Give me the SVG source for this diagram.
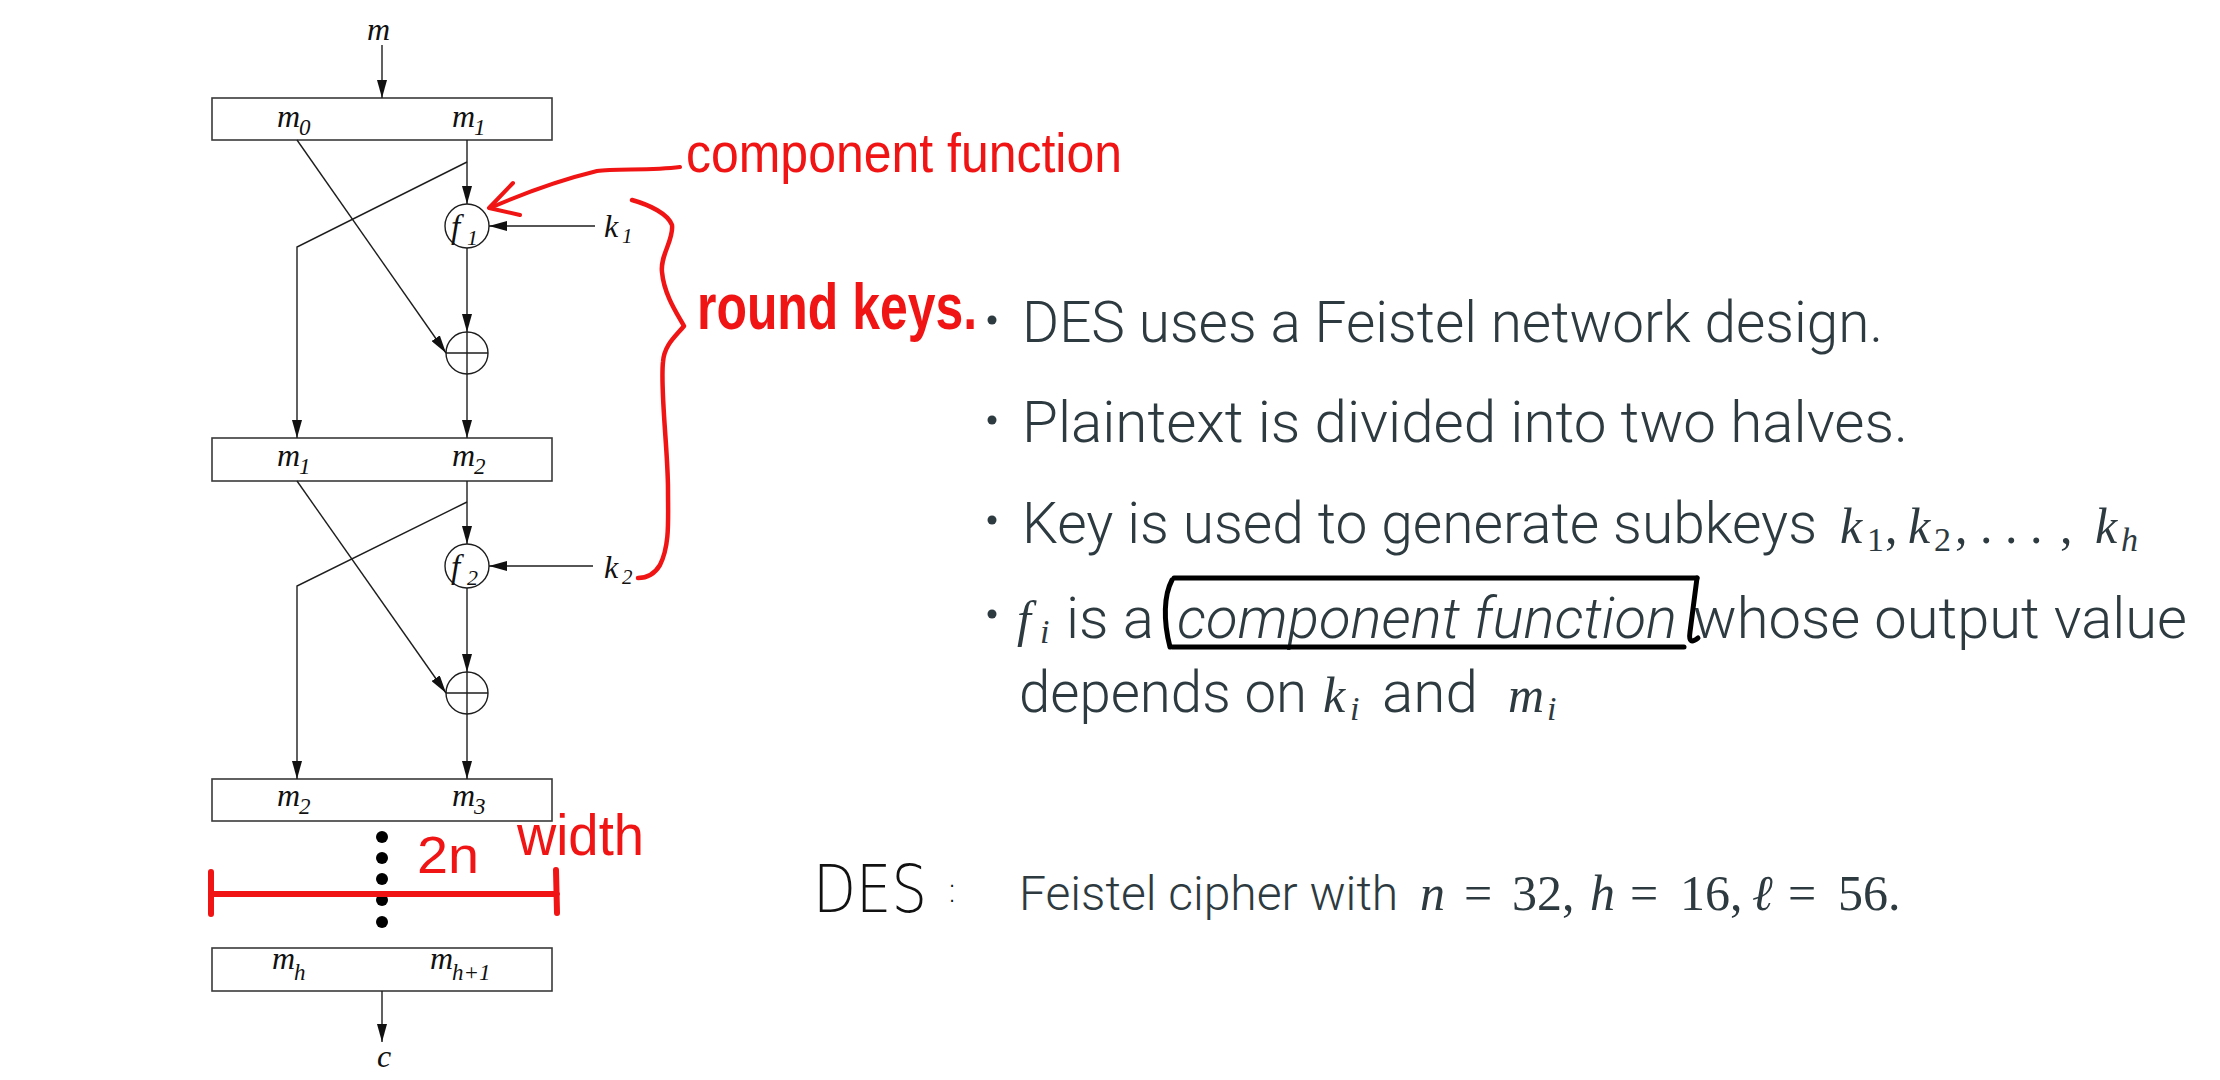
<svg xmlns="http://www.w3.org/2000/svg" width="2220" height="1080" viewBox="0 0 2220 1080">
  <style>
    .box { fill: #ffffff; stroke: #3a3a3a; stroke-width: 1.6; }
    .wire { fill: none; stroke: #1e1e1e; stroke-width: 1.4; }
    .node { fill: #ffffff; stroke: #1e1e1e; stroke-width: 1.4; }
    .lbl { font-family: "Liberation Serif", "DejaVu Serif", serif; font-style: italic; fill: #111111; }
    .lb { font-size: 32px; }
    .sub { font-size: 23px; }
    .body { font-family: Roboto, "Open Sans", "Liberation Sans", sans-serif; font-weight: 300; fill: #2d3a40; font-size: 58px; }
    .ital { font-style: italic; }
    .math { font-family: "Liberation Serif", "DejaVu Serif", serif; fill: #2d3a40; }
    .mi { font-style: italic; font-size: 50px; }
    .mr { font-size: 50px; }
    .ms { font-size: 34px; }
    .hand { font-family: "Liberation Sans", "DejaVu Sans", sans-serif; fill: #f01414; }
    .red { fill: none; stroke: #f01414; stroke-linecap: round; stroke-linejoin: round; }
    .ink { fill: none; stroke: #000000; stroke-width: 5; stroke-linecap: round; stroke-linejoin: round; }
    .dot { fill: #2d3a40; }
  </style>
  <defs>
    <marker id="head" markerUnits="userSpaceOnUse" markerWidth="18" markerHeight="10" refX="18" refY="5" orient="auto">
      <path d="M0,0 L18,5 L0,10 z" fill="#111111"/>
    </marker>
  </defs>

  <rect width="2220" height="1080" fill="#ffffff"/>

  <!-- Feistel network: registers -->
  <g id="reg0">
    <rect class="box" x="212" y="98" width="340" height="42"/>
    <text class="lbl lb" x="277" y="127">m<tspan class="sub" x="299" y="135">0</tspan></text>
    <text class="lbl lb" x="452" y="127">m<tspan class="sub" x="474" y="135">1</tspan></text>
  </g>
  <g id="reg1">
    <rect class="box" x="212" y="438" width="340" height="43"/>
    <text class="lbl lb" x="277" y="466">m<tspan class="sub" x="299" y="474">1</tspan></text>
    <text class="lbl lb" x="452" y="466">m<tspan class="sub" x="474" y="474">2</tspan></text>
  </g>
  <g id="reg2">
    <rect class="box" x="212" y="779" width="340" height="42"/>
    <text class="lbl lb" x="277" y="806">m<tspan class="sub" x="299" y="814">2</tspan></text>
    <text class="lbl lb" x="452" y="806">m<tspan class="sub" x="474" y="814">3</tspan></text>
  </g>
  <g id="regh">
    <rect class="box" x="212" y="948" width="340" height="43"/>
    <text class="lbl lb" x="272" y="969">m<tspan class="sub" x="294" y="980">h</tspan></text>
    <text class="lbl lb" x="430" y="969">m<tspan class="sub" x="452" y="980">h+1</tspan></text>
  </g>

  <!-- input / output labels -->
  <g id="input"><text class="lbl lb" x="367" y="40">m</text></g>
  <g id="output"><text class="lbl lb" x="377" y="1067">c</text></g>

  <!-- round functions -->
  <g id="f1">
    <circle class="node" cx="467" cy="226" r="22"/>
    <text class="lbl" font-size="33" x="451" y="238">f<tspan font-size="22" x="467" y="245">1</tspan></text>
  </g>
  <g id="f2">
    <circle class="node" cx="467" cy="566" r="22"/>
    <text class="lbl" font-size="33" x="451" y="578">f<tspan font-size="22" x="467" y="585">2</tspan></text>
  </g>

  <!-- XOR nodes -->
  <g id="xor1">
    <circle class="node" cx="467" cy="353" r="21"/>
    <path class="wire" d="M446 353 H488 M467 332 V374"/>
  </g>
  <g id="xor2">
    <circle class="node" cx="467" cy="693" r="21"/>
    <path class="wire" d="M446 693 H488 M467 672 V714"/>
  </g>

  <!-- round keys -->
  <g id="k1"><text class="lbl" font-size="32" x="604" y="237">k<tspan font-size="21" x="622" y="243">1</tspan></text></g>
  <g id="k2"><text class="lbl" font-size="32" x="604" y="578">k<tspan font-size="21" x="622" y="584">2</tspan></text></g>

  <!-- ellipsis between rounds -->
  <g id="ellipsis" fill="#000000">
    <circle cx="382" cy="837" r="6"/>
    <circle cx="382" cy="858" r="6"/>
    <circle cx="382" cy="879" r="6"/>
    <circle cx="382" cy="900" r="6"/>
    <circle cx="382" cy="922" r="6"/>
  </g>

  <!-- connectors -->
  <g id="connectors">
    <line class="wire" x1="382" y1="45" x2="382" y2="98" marker-end="url(#head)"/>
    <line class="wire" x1="467" y1="140" x2="467" y2="204" marker-end="url(#head)"/>
    <line class="wire" x1="595" y1="226" x2="489" y2="226" marker-end="url(#head)"/>
    <line class="wire" x1="467" y1="248" x2="467" y2="332" marker-end="url(#head)"/>
    <line class="wire" x1="297" y1="140" x2="446" y2="353" marker-end="url(#head)"/>
    <polyline class="wire" points="467,162 297,247 297,438" marker-end="url(#head)"/>
    <line class="wire" x1="467" y1="374" x2="467" y2="438" marker-end="url(#head)"/>

    <line class="wire" x1="467" y1="481" x2="467" y2="544" marker-end="url(#head)"/>
    <line class="wire" x1="593" y1="566" x2="489" y2="566" marker-end="url(#head)"/>
    <line class="wire" x1="467" y1="588" x2="467" y2="672" marker-end="url(#head)"/>
    <line class="wire" x1="297" y1="481" x2="446" y2="693" marker-end="url(#head)"/>
    <polyline class="wire" points="467,502 297,586 297,779" marker-end="url(#head)"/>
    <line class="wire" x1="467" y1="714" x2="467" y2="779" marker-end="url(#head)"/>

    <line class="wire" x1="382" y1="991" x2="382" y2="1042" marker-end="url(#head)"/>
  </g>

  <!-- handwritten notes -->
  <g id="note-component">
    <path class="red" stroke-width="4" d="M680 167 C 650 171, 615 168, 597 171 C 560 180, 522 194, 490 208"/>
    <path class="red" stroke-width="4" d="M513 183 L489 208 L520 215"/>
    <text class="hand" font-size="56" x="686" y="172" textLength="436" lengthAdjust="spacingAndGlyphs">component function</text>
  </g>
  <g id="note-roundkeys">
    <path class="red" stroke-width="4.5" d="M632 200 C 650 205, 668 214, 672 225 C 674 240, 660 255, 662 272 C 664 295, 678 315, 684 326 C 676 336, 664 345, 663 362 C 660 390, 668 450, 668 490 C 668 520, 670 545, 660 565 C 654 575, 645 578, 638 578"/>
    <text class="hand" font-weight="700" font-size="64" x="697" y="329" textLength="280" lengthAdjust="spacingAndGlyphs">round keys.</text>
  </g>
  <g id="note-width">
    <path class="red" stroke-width="6" d="M212 894 L557 894 M211 872 L211 914 M556 870 L557 913"/>
    <text class="hand" font-size="52" x="417" y="873" textLength="62" lengthAdjust="spacingAndGlyphs">2n</text>
    <text class="hand" font-size="58" x="517" y="855" textLength="127" lengthAdjust="spacingAndGlyphs">width</text>
  </g>

  <!-- bullet list -->
  <g id="bullets">
    <circle class="dot" cx="992" cy="320" r="4.5"/>
    <circle class="dot" cx="992" cy="420" r="4.5"/>
    <circle class="dot" cx="992" cy="520" r="4.5"/>
    <circle class="dot" cx="992" cy="614" r="4.5"/>

    <text class="body" x="1022" y="342" textLength="861" lengthAdjust="spacingAndGlyphs">DES uses a Feistel network design.</text>
    <text class="body" x="1022" y="442" textLength="886" lengthAdjust="spacingAndGlyphs">Plaintext is divided into two halves.</text>

    <text class="body" x="1022" y="543" textLength="795" lengthAdjust="spacingAndGlyphs">Key is used to generate subkeys</text>
    <text class="math"><tspan class="mi" x="1840" y="543">k</tspan><tspan class="ms" x="1867" y="551">1</tspan><tspan class="mr" x="1885" y="543">,</tspan><tspan class="mi" x="1908" y="543">k</tspan><tspan class="ms" x="1934" y="551">2</tspan><tspan class="mr" x="1955" y="543">,</tspan><tspan class="mr" x="1980" y="543">.</tspan><tspan class="mr" x="2005" y="543">.</tspan><tspan class="mr" x="2030" y="543">.</tspan><tspan class="mr" x="2060" y="543">,</tspan><tspan class="mi" x="2095" y="543">k</tspan><tspan class="mi ms" x="2121" y="551">h</tspan></text>

    <text class="math"><tspan class="mi" x="1017" y="636">f</tspan><tspan class="mi ms" x="1040" y="643">i</tspan></text>
    <text class="body" x="1066" y="638" textLength="88" lengthAdjust="spacingAndGlyphs">is a</text>
    <text class="body ital" x="1177" y="638" textLength="500" lengthAdjust="spacingAndGlyphs">component function</text>
    <text class="body" x="1693" y="638" textLength="494" lengthAdjust="spacingAndGlyphs">whose output value</text>

    <text class="body" x="1019" y="712" textLength="288" lengthAdjust="spacingAndGlyphs">depends on</text>
    <text class="math"><tspan class="mi" x="1323" y="712">k</tspan><tspan class="mi ms" x="1350" y="720">i</tspan></text>
    <text class="body" x="1382" y="712" textLength="96" lengthAdjust="spacingAndGlyphs">and</text>
    <text class="math"><tspan class="mi" x="1508" y="712">m</tspan><tspan class="mi ms" x="1547" y="720">i</tspan></text>
  </g>

  <!-- hand-drawn frame around the term -->
  <g id="frame">
    <path class="ink" d="M1174 578 H1697"/>
    <path class="ink" d="M1172 647 H1684"/>
    <path class="ink" d="M1172 580 C 1164 595, 1163 620, 1170 647"/>
    <path class="ink" d="M1697 578 L1690 632 Q1688 646 1698 638"/>
  </g>

  <!-- DES parameters -->
  <g id="des-params">
    <text font-family="'DejaVu Sans', 'Liberation Sans', sans-serif" font-weight="200" font-size="66" fill="#111111" x="813" y="912" textLength="114" lengthAdjust="spacingAndGlyphs">DES</text>
    <text font-family="'DejaVu Sans', 'Liberation Sans', sans-serif" font-weight="200" font-size="36" fill="#111111" x="946" y="902">:</text>
    <text class="body" style="font-size:48px" x="1019" y="910">Feistel cipher with</text>
    <text class="math" style="font-size:50px"><tspan class="mi" x="1420" y="910">n</tspan><tspan class="mr" x="1464" y="910">=</tspan><tspan class="mr" x="1512" y="910">32,</tspan><tspan class="mi" x="1590" y="910">h</tspan><tspan class="mr" x="1630" y="910">=</tspan><tspan class="mr" x="1680" y="910">16,</tspan><tspan class="mi" x="1752" y="910">ℓ</tspan><tspan class="mr" x="1788" y="910">=</tspan><tspan class="mr" x="1838" y="910">56.</tspan></text>
  </g>
</svg>
